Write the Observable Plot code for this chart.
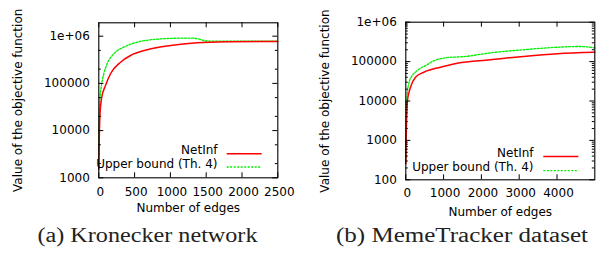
<!DOCTYPE html>
<html><head><meta charset="utf-8">
<script src="https://cdn.jsdelivr.net/npm/d3@7"></script>
<script src="https://cdn.jsdelivr.net/npm/@observablehq/plot@0.6"></script>
<style>
body{margin:0;background:#fff;}
#wrap{position:relative;width:597px;height:255px;overflow:hidden;background:#fff;}
#wrap svg{position:absolute;top:0;}
</style></head><body><div id="wrap"></div>
<script>
// ---- Panel (a): Kronecker network ----
const kronNetInfEdges = [0, 5, 15, 40, 94, 163, 303, 443, 676, 1002, 1374, 1800, 2500];
const kronNetInfValue = [1500, 5000, 20000, 50000, 90400, 160000, 281000, 390000, 515000, 635000, 724000, 760000, 775000];
const kronBoundEdges = [0, 5, 15, 34, 70, 117, 209, 349, 536, 816, 1141, 1327, 1420, 1490, 2000, 2500];
const kronBoundValue = [3000, 15000, 45000, 83000, 160000, 260000, 424000, 585000, 746000, 864000, 907000, 907000, 851000, 790000, 785000, 785000];
const kronXTicks = [0, 500, 1000, 1500, 2000, 2500];
const kronYTicks = [1000, 10000, 100000, 1000000];
const kronYMinor = [2000, 5000, 20000, 50000, 200000, 500000];

// ---- Panel (b): MemeTracker dataset ----
const memeNetInfEdges = [0, 10, 20, 37, 124, 257, 476, 918, 1360, 2240, 3120, 4005, 5000];
const memeNetInfValue = [255, 1200, 3200, 9300, 22400, 40200, 53800, 72100, 91000, 111000, 135000, 158000, 172000];
const memeBoundEdges = [0, 10, 20, 37, 79, 169, 257, 390, 521, 698, 860, 1050, 1579, 2240, 3120, 4005, 4600, 5000];
const memeBoundValue = [300, 2500, 7000, 15200, 27300, 44400, 54000, 68000, 79000, 100000, 115000, 125000, 135000, 167000, 200000, 232000, 242000, 224000];
const memeXTicks = [0, 1000, 2000, 3000, 4000];
const memeYTicks = [100, 1000, 10000, 100000, 1000000];
const memeYMinor = [];
for (const dec of [100, 1000, 10000, 100000]) for (let k = 2; k <= 9; k++) memeYMinor.push(dec * k);

const seriesNames = ["NetInf", "Upper bound (Th. 4)"];
const yTitle = "Value of the objective function";
const xTitle = "Number of edges";
const captions = ["(a) Kronecker network", "(b) MemeTracker dataset"];

const RED = "#ff0000", GREEN = "#00ee00";
const fmt = d => d === 1000000 ? "1e+06" : String(d);

function rows(xs, ys) { return xs.map((x, i) => ({x, y: ys[i]})); }

function legendLines(items) {
  return function (...args) {
    const dim = args.find(a => a && typeof a === "object" && "marginLeft" in a && "width" in a);
    const right = dim.width - dim.marginRight, bottom = dim.height - dim.marginBottom;
    const g = d3.create("svg:g");
    for (const it of items) {
      g.append("line")
        .attr("x1", right - it.x1).attr("x2", right - it.x2)
        .attr("y1", bottom - it.dyb).attr("y2", bottom - it.dyb)
        .attr("stroke", it.color).attr("stroke-width", it.sw)
        .attr("stroke-dasharray", it.dash || null);
    }
    return g.node();
  };
}

function panel(c) {
  const fw = c.width - c.ml - c.mr, fh = c.height - c.mt - c.mb;
  const net = rows(c.netX, c.netY), bnd = rows(c.bndX, c.bndY);
  const plot = Plot.plot({
    width: c.width, height: c.height,
    marginLeft: c.ml, marginRight: c.mr, marginTop: c.mt, marginBottom: c.mb,
    style: {fontFamily: "DejaVu Sans, sans-serif", fontSize: "12px", background: "transparent", color: "black"},
    x: {domain: c.xDomain},
    y: {type: "log", domain: c.yDomain},
    marks: [
      Plot.line(bnd, {x: "x", y: "y", stroke: GREEN, strokeWidth: 1.3, strokeDasharray: "2,1.5", curve: "monotone-x"}),
      Plot.line(net, {x: "x", y: "y", stroke: RED, strokeWidth: 1.5, curve: "monotone-x"}),
      Plot.frame({stroke: "black", strokeWidth: 1.1}),
      Plot.tickY(c.yTicks, {stroke: "black", insetRight: fw - 5}),
      Plot.tickY(c.yTicks, {stroke: "black", insetLeft: fw - 5}),
      Plot.tickY(c.yMinor, {stroke: "black", insetRight: fw - 2.5}),
      Plot.tickY(c.yMinor, {stroke: "black", insetLeft: fw - 2.5}),
      Plot.tickX(c.xTicks, {stroke: "black", insetTop: fh - 5}),
      Plot.tickX(c.xTicks, {stroke: "black", insetBottom: fh - 5}),
      Plot.axisY({ticks: c.yTicks, tickSize: 0, tickPadding: 9, tickFormat: fmt, label: null, fontSize: 12}),
      Plot.axisX({ticks: c.xTicks, tickSize: 0, tickPadding: c.xPad, dx: 1.5, tickFormat: d => String(d), label: null, fontSize: 12}),
      Plot.text([yTitle], {frameAnchor: "left", textAnchor: "middle", rotate: -90, dx: c.yTitleDx, text: d => d, fontSize: 12, fill: "black"}),
      Plot.text([xTitle], {frameAnchor: "bottom", dy: c.xTitleDy, text: d => d, fontSize: 12, fill: "black"}),
      Plot.text([seriesNames[0]], {frameAnchor: "bottom-right", textAnchor: "end", dx: -c.legTextR, dy: -c.leg1, text: d => d, fontSize: 12, fill: "black"}),
      Plot.text([seriesNames[1]], {frameAnchor: "bottom-right", textAnchor: "end", dx: -c.legTextR, dy: -c.leg2, text: d => d, fontSize: 12, fill: "black"}),
      legendLines([
        {x1: c.legL1, x2: c.legL2, dyb: c.leg1, color: RED, sw: 1.5},
        {x1: c.legL1, x2: c.legL2, dyb: c.leg2, color: GREEN, sw: 1.3, dash: "2,1.5"}
      ]),
      Plot.text([c.caption], {frameAnchor: "bottom", dx: c.capDx, dy: c.capDy, text: d => d, fontSize: 20, fontFamily: "Liberation Serif, serif", fill: "#222"})
    ]
  });
  plot.style.left = c.left + "px";
  document.getElementById("wrap").appendChild(plot);
  plot.querySelectorAll("text").forEach(t => {
    if (t.textContent === c.caption) {
      t.setAttribute("textLength", c.capWidth);
      t.setAttribute("lengthAdjust", "spacingAndGlyphs");
    }
  });
}

panel({
  left: 0, width: 300, height: 255, ml: 98.3, mr: 22.7, mt: 22.3, mb: 77.7,
  xDomain: [0, 2500], yDomain: [1000, 1920000],
  netX: kronNetInfEdges, netY: kronNetInfValue, bndX: kronBoundEdges, bndY: kronBoundValue,
  xTicks: kronXTicks, yTicks: kronYTicks, yMinor: kronYMinor, xPad: 10,
  yTitleDx: -80.3, xTitleDy: 34.5,
  legTextR: 60.3, leg1: 23.5, leg2: 10.3, legL1: 50.6, legL2: 15.6,
  caption: captions[0], capDx: -40.8, capDy: 64.3, capWidth: 220
});
panel({
  left: 300, width: 297, height: 255, ml: 105.3, mr: 2.7, mt: 21.7, mb: 75.7,
  xDomain: [0, 5000], yDomain: [100, 1000000],
  netX: memeNetInfEdges, netY: memeNetInfValue, bndX: memeBoundEdges, bndY: memeBoundValue,
  xTicks: memeXTicks, yTicks: memeYTicks, yMinor: memeYMinor, xPad: 9,
  yTitleDx: -80.6, xTitleDy: 35.7,
  legTextR: 61.3, leg1: 22.8, leg2: 8.6, legL1: 51, legL2: 16,
  caption: captions[1], capDx: -38.3, capDy: 62.5, capWidth: 252
});
</script>
</body></html>
